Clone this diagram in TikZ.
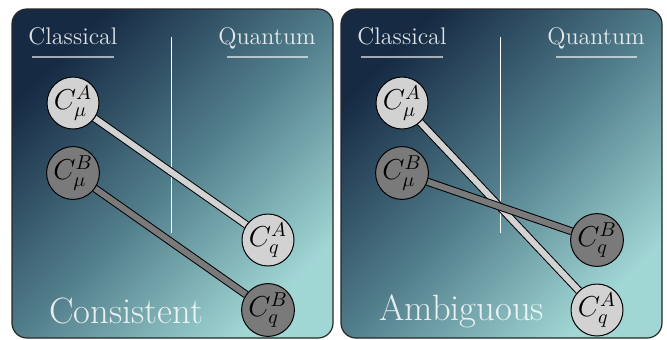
\documentclass[tikz,border=0pt]{standalone}
\usepackage{amsmath, amssymb}
\usepackage{tikz}
\usetikzlibrary{positioning, calc, backgrounds}
\usepackage{xcolor}
\definecolor{panelnavy}{RGB}{22,42,68}
\definecolor{panelmid}{RGB}{80,124,138}
\definecolor{panelteal}{RGB}{160,214,212}
\definecolor{lightbit}{RGB}{210,210,210}
\definecolor{darkbit}{RGB}{122,122,122}
\pgfdeclarelayer{bars}
\pgfsetlayers{background,bars,main}

\begin{document}
\begin{tikzpicture}[x=0.5pt, y=-0.5pt,
  panel/.style={draw=black!85, line width=0.6pt, rounded corners=7.5pt,
                top color=panelnavy, bottom color=panelteal,
                middle color=panelmid, shading angle=45},
  bitnode/.style={draw, circle, minimum size=26pt, inner sep=0pt,
                  line width=0.5pt, font=\Large},
  lightnode/.style={bitnode, fill=lightbit},
  darknode/.style={bitnode, fill=darkbit},
  head/.style={text=white, text opacity=0.85, font=\large, inner sep=0pt,
               anchor=base},
  verdict/.style={text=white, text opacity=0.85, inner sep=0pt,
                  font=\fontsize{18.3}{22}\selectfont, anchor=base west},
  rule/.style={draw=white, draw opacity=0.6, line width=0.8pt},
  divider/.style={draw=white, line width=0.5pt},
  lightbar/.style={double=lightbit, double distance=3pt, line width=0.5pt},
  darkbar/.style={double=darkbit, double distance=3pt, line width=0.5pt}
]
\useasboundingbox (0,0) rectangle (667,339);

%--- Left panel: consistent ---
\coordinate (d1t) at (171,37); \coordinate (d1b) at (171,233);
\begin{scope}[on background layer]
  \shadedraw[panel] (12,9) rectangle (333,338);
  \draw[divider] (d1t) -- (d1b);
\end{scope}
\node[head] (cls1) at (73,44)  {Classical};
\node[head] (qnt1) at (267,44) {Quantum};
\coordinate (r1a) at (32,57);  \coordinate (r1b) at (114,57);
\coordinate (r1c) at (227,57); \coordinate (r1d) at (308,57);
\draw[rule] (r1a) -- (r1b);
\draw[rule] (r1c) -- (r1d);

\node[lightnode] (muA1) at (73,103)  {$C_\mu^A$};
\node[darknode]  (muB1) at (73,173)  {$C_\mu^B$};
\node[lightnode] (qA1)  at (268,240) {$C_q^A$};
\node[darknode]  (qB1)  at (268,310) {$C_q^B$};

\begin{pgfonlayer}{bars}
  \draw[lightbar] (muA1) -- (qA1);
  \draw[darkbar]  (muB1) -- (qB1);
\end{pgfonlayer}

\node[verdict] (cons) at (49,323) {Consistent};

%--- Right panel: ambiguous ---
\coordinate (d2t) at (500,37); \coordinate (d2b) at (500,233);
\begin{scope}[on background layer]
  \shadedraw[panel] (341,9) rectangle (662,338);
  \draw[divider] (d2t) -- (d2b);
\end{scope}
\node[head] (cls2) at (402,44) {Classical};
\node[head] (qnt2) at (596,44) {Quantum};
\coordinate (r2a) at (361,57); \coordinate (r2b) at (443,57);
\coordinate (r2c) at (556,57); \coordinate (r2d) at (637,57);
\draw[rule] (r2a) -- (r2b);
\draw[rule] (r2c) -- (r2d);

\node[lightnode] (muA2) at (402,103) {$C_\mu^A$};
\node[darknode]  (muB2) at (402,173) {$C_\mu^B$};
\node[darknode]  (qB2)  at (597,240) {$C_q^B$};
\node[lightnode] (qA2)  at (597,310) {$C_q^A$};

\begin{pgfonlayer}{bars}
  \draw[lightbar] (muA2) -- (qA2);
  \draw[darkbar]  (muB2) -- (qB2);
\end{pgfonlayer}

\node[verdict] (amb) at (379,320) {Ambiguous};

\end{tikzpicture}
\end{document}
